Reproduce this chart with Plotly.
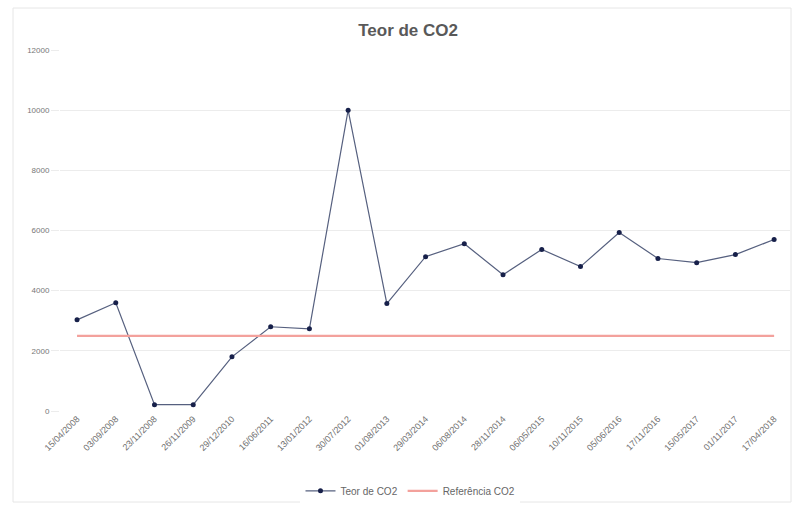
import plotly.graph_objects as go

dates = ["15/04/2008", "03/09/2008", "23/11/2008", "26/11/2009", "29/12/2010",
         "16/06/2011", "13/01/2012", "30/07/2012", "01/08/2013", "29/03/2014",
         "06/08/2014", "28/11/2014", "06/05/2015", "10/11/2015", "05/06/2016",
         "17/11/2016", "15/05/2017", "01/11/2017", "17/04/2018"]
teor_co2 = [3030, 3600, 210, 210, 1800, 2800, 2730, 10000, 3570, 5130,
            5560, 4530, 5370, 4800, 5930, 5070, 4930, 5200, 5700]
referencia_co2 = [2500] * len(dates)

fig = go.Figure()
fig.add_trace(go.Scatter(
    x=dates, y=teor_co2, name="Teor de CO2", mode="lines+markers",
    line=dict(color="#56607f", width=1.2),
    marker=dict(color="#17204a", size=5),
))
fig.add_trace(go.Scatter(
    x=dates, y=referencia_co2, name="Referência CO2", mode="lines",
    line=dict(color="#f3a19c", width=2.2),
))

L, R, T, B = 60, 4, 50, 96
W, H = 794, 507
pw, ph = W - L - R, H - T - B

fig.add_shape(type="rect", xref="paper", yref="paper",
              x0=(13 - L) / pw, x1=(791 - L) / pw,
              y0=(H - B - 502) / ph, y1=(H - B - 8) / ph,
              line=dict(color="#e6e6e6", width=1), fillcolor="rgba(0,0,0,0)",
              layer="below")

fig.update_layout(
    width=W, height=H,
    margin=dict(l=L, r=R, t=T, b=B),
    paper_bgcolor="white", plot_bgcolor="white",
    font=dict(family="Arial, Liberation Sans, sans-serif", color="#666666", size=9),
    title=dict(text="<b>Teor de CO2</b>", x=0.514, xref="container", xanchor="center",
               y=0.94, yref="container", yanchor="middle",
               font=dict(size=17, color="#595959")),
    showlegend=True,
    legend=dict(orientation="h", x=0.517, xref="container", xanchor="center",
                y=0.032, yref="container", yanchor="middle",
                font=dict(size=10, color="#666666"), itemwidth=30),
    xaxis=dict(
        type="category", range=[-0.44, 18.41], tickangle=-45,
        showgrid=False, showline=False, zeroline=False,
        tickfont=dict(size=9, color="#707070"), ticks="",
    ),
    yaxis=dict(
        range=[0, 12000], dtick=2000, tickformat="d", showgrid=True,
        gridcolor="#ececec", zeroline=False, showline=False, ticks="outside",
        ticklen=8, tickcolor="#ececec", tickfont=dict(size=8, color="#777777"),
    ),
)

fig.write_html("out.html", config={"displayModeBar": False},
               post_script="document.body.style.margin='0';document.body.style.padding='0';")
